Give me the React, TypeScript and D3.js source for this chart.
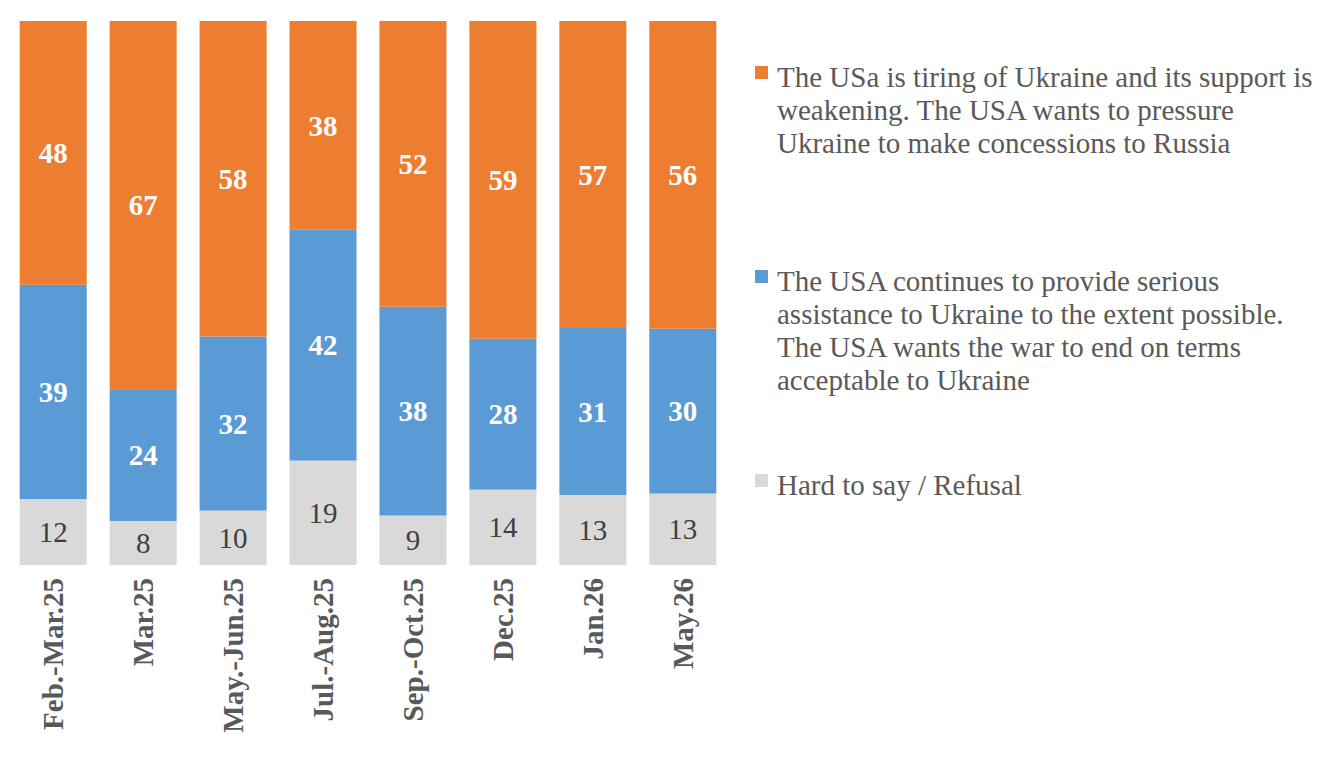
import { useEffect, useRef } from "react";
import * as d3 from "d3";

const periods = ["Feb.-Mar.25", "Mar.25", "May.-Jun.25", "Jul.-Aug.25", "Sep.-Oct.25", "Dec.25", "Jan.26", "May.26"];
const tiring = [48, 67, 58, 38, 52, 59, 57, 56];
const assist = [39, 24, 32, 42, 38, 28, 31, 30];
const hardToSay = [12, 8, 10, 19, 9, 14, 13, 13];

const seriesKeys = ["hard", "assist", "tiring"];
const seriesColors: Record<string, string> = { hard: "#D9D9D9", assist: "#5B9BD5", tiring: "#ED7D31" };

const legendItems = [
  {
    key: "tiring",
    lines: [
      "The USa is tiring of Ukraine and its support is",
      "weakening. The USA wants to pressure",
      "Ukraine to make concessions to Russia",
    ],
  },
  {
    key: "assist",
    lines: [
      "The USA continues to provide serious",
      "assistance to Ukraine to the extent possible.",
      "The USA wants the war to end on terms",
      "acceptable to Ukraine",
    ],
  },
  { key: "hard", lines: ["Hard to say / Refusal"] },
];

export default function App() {
  const svgRef = useRef<SVGSVGElement>(null);

  useEffect(() => {
    const width = 1332;
    const height = 777;
    const font = "'Liberation Serif', 'Times New Roman', serif";
    const fs = 29;

    const svg = d3.select(svgRef.current);
    svg.selectAll("*").remove();

    const data = periods.map((p, i) => ({
      period: p,
      hard: hardToSay[i],
      assist: assist[i],
      tiring: tiring[i],
    }));

    const stacked = d3.stack<any>().keys(seriesKeys).offset(d3.stackOffsetExpand)(data);

    const x = d3.scaleBand()
      .domain(periods)
      .range([8, 728])
      .paddingInner(0.255)
      .paddingOuter(0.13);

    const y = d3.scaleLinear().domain([0, 1]).range([565, 21]);

    const layers = svg.append("g")
      .selectAll("g")
      .data(stacked)
      .enter()
      .append("g")
      .attr("fill", d => seriesColors[d.key]);

    layers.selectAll("rect")
      .data(d => d.map(s => ({ s, key: d.key })))
      .enter()
      .append("rect")
      .attr("x", d => x(d.s.data.period)!)
      .attr("y", d => y(d.s[1]))
      .attr("width", x.bandwidth())
      .attr("height", d => y(d.s[0]) - y(d.s[1]));

    // value labels
    layers.selectAll("text")
      .data(d => d.map(s => ({ s, key: d.key })))
      .enter()
      .append("text")
      .attr("x", d => x(d.s.data.period)! + x.bandwidth() / 2)
      .attr("y", d => (y(d.s[0]) + y(d.s[1])) / 2)
      .attr("dy", "0.35em")
      .attr("text-anchor", "middle")
      .attr("font-family", font)
      .attr("font-size", fs)
      .attr("font-weight", d => (d.key === "hard" ? "normal" : "bold"))
      .attr("fill", d => (d.key === "hard" ? "#404040" : "#FFFFFF"))
      .text(d => d.s.data[d.key]);

    // category labels (rotated)
    svg.append("g")
      .selectAll("text")
      .data(periods)
      .enter()
      .append("text")
      .attr("transform", d => `translate(${x(d)! + x.bandwidth() / 2},578) rotate(-90)`)
      .attr("dy", "0.35em")
      .attr("text-anchor", "end")
      .attr("font-family", font)
      .attr("font-size", fs)
      .attr("font-weight", "bold")
      .attr("fill", "#595959")
      .text(d => d);

    // legend
    const legendTops = [87, 291, 495];
    const lineH = 33;
    const legend = svg.append("g");
    legendItems.forEach((item, i) => {
      const base = legendTops[i];
      legend.append("rect")
        .attr("x", 755)
        .attr("y", base - 21)
        .attr("width", 13)
        .attr("height", 13)
        .attr("fill", seriesColors[item.key]);
      const t = legend.append("text")
        .attr("font-family", font)
        .attr("font-size", fs)
        .attr("fill", "#595959");
      item.lines.forEach((ln, j) => {
        t.append("tspan").attr("x", 777).attr("y", base + j * lineH).text(ln);
      });
    });

    svg.attr("width", width).attr("height", height);
  }, []);

  return (
    <svg
      ref={svgRef}
      width={1332}
      height={777}
      style={{ position: "absolute", left: 0, top: 0, background: "#fff" }}
    />
  );
}
